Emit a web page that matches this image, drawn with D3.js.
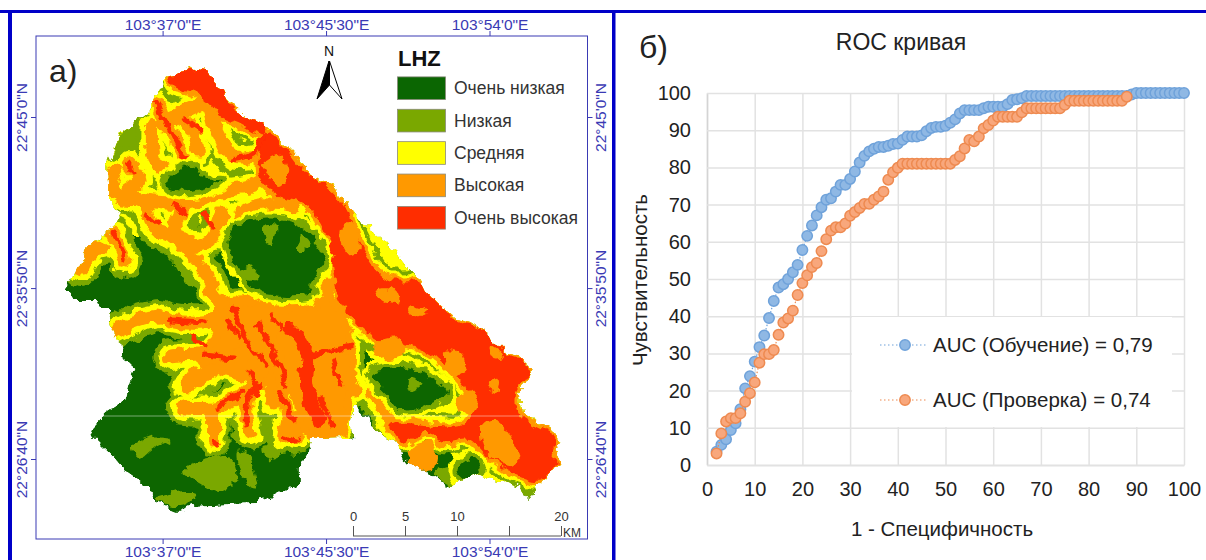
<!DOCTYPE html>
<html>
<head>
<meta charset="utf-8">
<script src="https://cdn.jsdelivr.net/npm/d3@7"></script>
<style>
  html, body { margin: 0; background: #fff; }
  text { font-family: "Liberation Sans", Arial, sans-serif; }
</style>
</head>
<body>
<div id="grafiek"></div>
<script>
// ---- ROC data ----
const fprSteps = [2,3,4,5,6,7,8,9,10,11,12,13,14,15,16,17,18,19,20,21,22,23,24,25,26,27,28,29,30,31,32,33,34,35,36,37,38,39,40,41,42,43,44,45,46,47,48,49,50,51,52,53,54,55,56,57,58,59,60,61,62,63,64,65,66,67,68,69,70,71,72,73,74,75,76,77,78,79,80,81,82,83,84,85,86,87,88,89,90,91,92,93,94,95,96,97,98,99,100];
const trainingTpr = [3.6,5.4,6.9,9.4,11.2,15,20.6,23.9,27.8,31.7,34.8,39.5,44.1,47.7,48.6,50,51.8,53.8,57.8,61.6,64.4,67.1,69.3,71.3,71.7,73.5,75.3,75.3,76.9,78.9,81.3,83.1,84.3,85,85.5,85.5,85.8,86.3,86.4,87.4,88.3,88.3,88.3,88.6,89.7,90.6,90.9,90.9,91.2,92,92.9,94.5,95.4,95.4,95.4,95.4,95.9,96.3,96.3,96.3,96.3,97,98.1,98.3,98.6,99.2,99.2,99.2,99.2,99.2,99.2,99.2,99.2,99.2,99.2,99.2,99.2,99.2,99.2,99.2,99.2,99.2,99.2,99.2,99.2,99.2,99.2,99.6,100,100,100,100,100,100,100,100,100,100,100];
const validationTpr = [3.1,8.5,11.7,12.6,12.6,13.9,17,19.3,22.2,27.5,29.8,29.8,30.9,35,38.3,39.4,41.5,45.7,48.9,51,53.2,54.3,57.5,60.7,63,63.9,63.9,64.9,67,68,69.1,70.2,70.2,71.3,72.2,73.5,76.7,78.7,79.9,81,81,81,81,81,81,81,81,81,81,81,82,83,85.1,87.4,87,88.3,90.5,91.4,92.6,93.6,93.6,93.6,93.6,93.6,94.8,95.9,95.9,95.9,95.9,95.9,95.9,95.9,95.9,96.8,97.9,97.9,97.9,97.9,97.9,97.9,97.9,97.9,97.9,97.9,97.9,97.9,99];
const rocTicks = [0,10,20,30,40,50,60,70,80,90,100];
const rocLegend = ['AUC (Обучение) = 0,79', 'AUC (Проверка) = 0,74'];

// ---- map labels ----
const lonTicks = [37, 45.5, 54];
const lonLabels = ['103°37\'0"E', '103°45\'30"E', '103°54\'0"E'];
const latTicks = [45, 35.83, 26.67];
const latLabels = ['22°45\'0"N', '22°35\'50"N', '22°26\'40"N'];
const zoneNames = ['Очень низкая', 'Низкая', 'Средняя', 'Высокая', 'Очень высокая'];
const scaleKm = [0, 5, 10, 15, 20];
const scaleKmLabels = ['0', '5', '10', '', '20'];

// ---- map regions, traced off the raster (sheet units) ----
const mapOutline = [[143,76],[158,72],[162,66],[167,70],[175,72],[185,78],[192,96],[205,112],[225,124],[240,138],[258,160],[268,178],[285,186],[298,205],[310,222],[330,240],[345,262],[358,278],[363,287],[377,305],[390,318],[403,322],[417,333],[433,352],[445,357],[455,368],[445,393],[448,413],[467,427],[482,440],[475,450],[480,462],[470,477],[460,487],[452,500],[445,487],[433,482],[427,483],[410,473],[383,487],[370,475],[347,460],[340,443],[330,437],[317,423],[305,405],[300,420],[302,440],[295,437],[267,438],[263,455],[257,467],[257,483],[233,497],[220,502],[200,503],[167,505],[152,512],[133,503],[127,487],[110,473],[98,457],[80,437],[78,428],[90,413],[107,400],[115,368],[105,358],[103,342],[97,330],[92,323],[95,310],[80,300],[62,300],[55,290],[63,277],[77,245],[93,233],[102,213],[93,197],[92,167],[103,133],[125,113],[133,97]];
const upperZone = [[80,160],[130,60],[240,100],[320,210],[370,290],[470,410],[495,470],[465,500],[400,470],[360,430],[330,380],[290,300],[275,215],[195,215],[140,235],[95,235]];
const lowZones = [
  [[157,470],[197,457],[203,478],[187,493],[172,484]],
  [[204,452],[212,455],[220,488],[212,485]],
  [[226,447],[240,450],[238,462],[230,460]],
  [[223,407],[232,408],[234,440],[226,440]],
  [[113,447],[130,438],[147,440],[130,450],[120,458]],
  [[133,498],[167,492],[160,505],[140,505]],
  [[150,262],[172,272],[168,290],[158,280]],
  [[103,135],[125,115],[130,128],[112,160],[97,165]],
  [[160,215],[170,218],[168,232],[158,230]],
  [[436,478],[462,480],[453,500],[444,490]],
  [[372,472],[395,463],[405,450],[415,462],[430,478],[410,470],[385,485]],
  [[290,408],[302,405],[300,432],[290,430]]
];
const ridgeLines = [
  [[133,103],[143,123],[160,163]],
  [[150,117],[177,105],[187,133],[200,157],[222,155]],
  [[140,125],[150,117],[165,130],[170,150]],
  [[130,125],[133,163],[150,172]],
  [[100,170],[95,183],[103,197],[120,200],[127,213],[133,230],[147,237],[157,247]],
  [[103,197],[120,180],[110,163]],
  [[120,200],[160,203],[197,190],[213,187],[223,180]],
  [[160,203],[150,225],[165,245],[180,240],[190,213]],
  [[157,247],[180,280],[182,290],[194,313]],
  [[97,233],[108,262]],
  [[70,270],[80,250],[88,248]],
  [[97,332],[115,322],[137,316],[146,320],[174,322],[194,317]],
  [[194,313],[211,347],[228,370],[234,403]],
  [[251,303],[243,333],[263,387],[274,425]],
  [[146,357],[172,355],[197,358],[214,353]],
  [[157,408],[186,407],[206,395],[226,370]],
  [[183,440],[183,410]],
  [[214,433],[211,403],[217,393]],
  [[243,437],[246,410],[240,393]],
  [[254,437],[251,417]],
  [[300,347],[271,353],[248,353]],
  [[243,307],[272,300],[283,283]],
  [[165,375],[160,385],[180,372]],
  [[205,215],[222,205],[250,210]],
  [[300,380],[304,390]],
  [[320,393],[337,427]]
];
const centralOrange = [[190,305],[240,300],[275,290],[300,340],[298,400],[292,432],[262,432],[252,395],[215,380],[172,360],[185,335]];
const redAreas = [
  [[228,135],[240,142],[262,172],[285,192],[298,210],[305,235],[330,278],[358,282],[377,305],[392,321],[405,325],[419,335],[435,354],[447,360],[453,369],[443,393],[446,415],[478,441],[472,452],[477,462],[465,480],[448,478],[420,458],[402,440],[380,442],[366,432],[345,442],[338,436],[335,424],[375,426],[398,424],[402,395],[378,362],[358,347],[342,342],[325,340],[308,326],[292,300],[286,270],[280,235],[262,205],[235,195],[222,170]],
  [[145,76],[162,68],[185,78],[192,96],[205,112],[228,125],[224,134],[205,124],[190,117],[178,102],[165,92],[150,87]]
];
const redStreaks = [
  [[133,103],[143,123],[160,163]],
  [[197,160],[217,153],[227,135]],
  [[146,320],[175,322]],
  [[176,355],[200,358]],
  [[186,407],[209,392]],
  [[200,310],[214,345],[228,365]],
  [[222,325],[238,362],[245,385]],
  [[300,345],[270,355]],
  [[211,425],[213,400],[222,385]],
  [[240,393],[252,420]],
  [[183,440],[187,445]],
  [[243,437],[254,440]],
  [[97,233],[108,258]],
  [[195,320],[204,335]],
  [[232,315],[240,328]],
  [[275,400],[285,425]],
  [[285,360],[292,385]],
  [[158,120],[172,130]],
  [[110,163],[113,170]],
  [[148,205],[158,212]],
  [[125,215],[135,225]],
  [[175,215],[182,228]],
  [[165,335],[175,345]],
  [[215,375],[222,395]]
];
const mainChannel = [[248,327],[263,353],[263,387],[274,420]];
const hazardIslands = [
  [[320,345],[342,338],[347,352],[326,360]],
  [[380,352],[395,354],[398,372],[387,375]],
  [[412,428],[424,420],[445,455],[438,466],[417,453]],
  [[350,448],[371,442],[374,466],[356,468]],
  [[292,230],[300,222],[308,250],[298,255]],
  [[392,398],[405,392],[408,410],[394,412]],
  [[350,305],[365,310],[360,318],[350,315]],
  [[225,165],[240,155],[247,170],[238,185]],
  [[322,290],[338,290],[342,302],[328,300]],
  [[418,385],[428,380],[426,392]],
  [[420,345],[432,355],[422,358]]
];
const basins = [
  [[195,240],[210,222],[255,224],[278,258],[265,285],[268,293],[225,293],[213,282]],
  [[145,176],[165,166],[175,180],[190,180],[165,191],[143,186]],
  [[318,374],[350,368],[383,392],[370,403],[345,410],[332,395]],
  [[392,470],[405,458],[412,468],[400,480]]
];
const basinPatches = [
  [[225,226],[236,224],[233,245],[228,243]],
  [[258,236],[266,246],[256,252]],
  [[205,272],[218,268],[222,280],[212,280]],
  [[350,378],[362,384],[352,392]]
];

// Scales shared by the figure.
const width = 1206, height = 560;
const svg = d3.select('#grafiek').append('svg').attr('width', width).attr('height', height);
const defs = svg.append('defs');

// Jagged raster edge for the zones.
const rough = defs.append('filter').attr('id', 'rough')
  .attr('x', '-5%').attr('y', '-5%').attr('width', '110%').attr('height', '110%');
rough.append('feTurbulence').attr('type', 'fractalNoise').attr('baseFrequency', 0.09)
  .attr('numOctaves', 3).attr('seed', 4).attr('result', 'noise');
rough.append('feDisplacementMap').attr('in', 'SourceGraphic').attr('in2', 'noise')
  .attr('scale', 11).attr('xChannelSelector', 'R').attr('yChannelSelector', 'G');
const soft = defs.append('filter').attr('id', 'soft');
soft.append('feGaussianBlur').attr('stdDeviation', 0.5);

// Page frame.
const frameBlue = '#0000c8';
svg.append('rect').attr('x', 0).attr('y', 10).attr('width', width).attr('height', 3).attr('fill', frameBlue);
svg.append('rect').attr('x', 8).attr('y', 10).attr('width', 4).attr('height', height).attr('fill', frameBlue);
svg.append('rect').attr('x', 612).attr('y', 10).attr('width', 3.5).attr('height', height).attr('fill', frameBlue);

// ---------- a) map ----------
const frame = { left: 36, right: 587.5, top: 36, bottom: 539 };
const sheetX = d3.scaleLinear().domain([0, 522.7]).range([0, 610]);
const sheetY = d3.scaleLinear().domain([0, 560]).range([0, 560]);
const area = d3.line().x(d => sheetX(d[0])).y(d => sheetY(d[1])).curve(d3.curveCatmullRomClosed);
const ridge = d3.line().x(d => sheetX(d[0])).y(d => sheetY(d[1])).curve(d3.curveCatmullRom);
const sharp = d3.line().x(d => sheetX(d[0])).y(d => sheetY(d[1]));

const colDark = '#0b6602', colLow = '#7aa800', colMid = '#ffff00', colHigh = '#ff9900', colTop = '#ff2d00';
const zoneColors = [colDark, colLow, colMid, colHigh, colTop];

defs.append('clipPath').attr('id', 'outline').append('path').attr('d', sharp(mapOutline) + 'Z');

const mapWrap = svg.append('g').attr('filter', 'url(#soft)');
const mapLayer = mapWrap.append('g').attr('filter', 'url(#rough)').append('g').attr('clip-path', 'url(#outline)');
mapLayer.append('path').attr('d', sharp(mapOutline) + 'Z').attr('fill', colDark);
mapLayer.append('path').attr('d', sharp(upperZone) + 'Z').attr('fill', colMid);
mapLayer.selectAll('.low').data(lowZones).enter().append('path').attr('class', 'low')
  .attr('d', area).attr('fill', colLow);

// Each hazard band is the same ridges stroked wide to narrow.
const hazardAreas = [centralOrange].concat(redAreas);
const bands = [
  { color: colLow, line: 34, poly: 24 },
  { color: colMid, line: 24, poly: 16 },
  { color: colHigh, line: 13, poly: 8 }
];
bands.forEach(b => {
  const g = mapLayer.append('g');
  g.selectAll('.a').data(hazardAreas).enter().append('path')
    .attr('d', area).attr('fill', b.color).attr('stroke', b.color)
    .attr('stroke-width', b.poly).attr('stroke-linejoin', 'round');
  g.selectAll('.r').data(ridgeLines).enter().append('path')
    .attr('d', ridge).attr('fill', 'none').attr('stroke', b.color)
    .attr('stroke-width', b.line).attr('stroke-linecap', 'round').attr('stroke-linejoin', 'round');
});

mapLayer.selectAll('.red').data(redAreas).enter().append('path').attr('class', 'red')
  .attr('d', area).attr('fill', colTop);
mapLayer.selectAll('.isl').data(hazardIslands).enter().append('path').attr('class', 'isl')
  .attr('d', area).attr('fill', colHigh);
mapLayer.selectAll('.streak').data(redStreaks).enter().append('path').attr('class', 'streak')
  .attr('d', ridge).attr('fill', 'none').attr('stroke', colTop).attr('stroke-width', 5).attr('stroke-linecap', 'round');
mapLayer.append('path').attr('d', ridge(mainChannel)).attr('fill', 'none')
  .attr('stroke', colTop).attr('stroke-width', 13).attr('stroke-linecap', 'round');

// Low basins go on top with their yellow and green rim.
[{ color: colMid, w: 18 }, { color: colLow, w: 10 }, { color: colDark, w: 0 }].forEach(b => {
  mapLayer.append('g').selectAll('path').data(basins).enter().append('path')
    .attr('d', area).attr('fill', b.color).attr('stroke', b.color)
    .attr('stroke-width', b.w).attr('stroke-linejoin', 'round');
});
mapLayer.selectAll('.bp').data(basinPatches).enter().append('path').attr('class', 'bp')
  .attr('d', area).attr('fill', colLow);

// Faint scan line that crosses the raster.
mapWrap.append('line').attr('x1', sheetX(78)).attr('x2', sheetX(448))
  .attr('y1', sheetY(416)).attr('y2', sheetY(416)).attr('stroke', '#fff').attr('stroke-opacity', 0.45);

// Graticule with the coordinates on all four sides.
const mapBlue = '#3a3ab4';
const lonScale = d3.scaleLinear().domain([37, 54]).range([162.6, 489.5]);
const latScale = d3.scaleLinear().domain([45, 26.67]).range([117, 459]);
svg.append('rect').attr('x', frame.left).attr('y', frame.top)
  .attr('width', frame.right - frame.left).attr('height', frame.bottom - frame.top)
  .attr('fill', 'none').attr('stroke', mapBlue).attr('stroke-width', 1);

function styleGrat(g) {
  g.select('.domain').remove();
  g.selectAll('line').attr('stroke', mapBlue);
  g.selectAll('text').attr('fill', mapBlue).style('font-size', '15.5px');
}
const lonFmt = (d, i) => lonLabels[i];
const latFmt = (d, i) => latLabels[i];
svg.append('g').attr('transform', `translate(0,${frame.top})`)
  .call(d3.axisTop(lonScale).tickValues(lonTicks).tickFormat(lonFmt).tickSize(5).tickPadding(1)).call(styleGrat);
svg.append('g').attr('transform', `translate(0,${frame.bottom})`)
  .call(d3.axisBottom(lonScale).tickValues(lonTicks).tickFormat(lonFmt).tickSize(5).tickPadding(2)).call(styleGrat);
svg.append('g').attr('transform', `translate(${frame.left},0)`)
  .call(d3.axisLeft(latScale).tickValues(latTicks).tickFormat(latFmt).tickSize(5)).call(styleGrat)
  .selectAll('text').attr('text-anchor', 'middle').attr('x', 0).attr('y', 0).attr('dy', 0)
  .attr('transform', 'translate(-9,0) rotate(-90)');
svg.append('g').attr('transform', `translate(${frame.right},0)`)
  .call(d3.axisRight(latScale).tickValues(latTicks).tickFormat(latFmt).tickSize(5)).call(styleGrat)
  .selectAll('text').attr('text-anchor', 'middle').attr('x', 0).attr('y', 0).attr('dy', 0)
  .attr('transform', 'translate(18.5,0) rotate(-90)');

svg.append('text').attr('x', 49).attr('y', 82).text('а)').style('font-size', '32px').attr('fill', '#222');

// North arrow.
const northArrow = svg.append('g');
northArrow.append('text').attr('x', 329).attr('y', 56).attr('text-anchor', 'middle').text('N')
  .style('font-size', '14px').attr('fill', '#111');
northArrow.append('path').attr('d', 'M329,61L317,99L329.5,85Z').attr('fill', '#000').attr('stroke', '#000');
northArrow.append('path').attr('d', 'M329.5,61L342,99L329.5,85Z').attr('fill', '#fff').attr('stroke', '#000');

// Legend of the zones.
svg.append('text').attr('x', 398).attr('y', 66).text('LHZ').style('font-size', '22px')
  .style('font-weight', 'bold').attr('fill', '#111');
const zoneY = d3.scaleBand().domain(zoneNames).range([73, 233]).paddingInner(0.3).paddingOuter(0.12);
const zoneRows = svg.append('g').selectAll('g').data(zoneNames).enter().append('g');
zoneRows.append('rect').attr('x', 397.5).attr('y', d => zoneY(d)).attr('width', 48).attr('height', zoneY.bandwidth())
  .attr('fill', (d, i) => zoneColors[i]).attr('stroke', '#8a8a7a').attr('stroke-width', 0.8);
zoneRows.append('text').attr('x', 454).attr('y', d => zoneY(d) + zoneY.bandwidth() / 2 + 6)
  .text(d => d).style('font-size', '17.5px').attr('fill', '#333');

// Scale bar.
const kmScale = d3.scaleLinear().domain([0, 20]).range([353, 561]);
const kmAxis = svg.append('g').attr('transform', 'translate(0,536)')
  .call(d3.axisTop(kmScale).tickValues(scaleKm).tickFormat((d, i) => scaleKmLabels[i]).tickSize(10).tickSizeOuter(0).tickPadding(5));
kmAxis.selectAll('line').attr('stroke', '#555');
kmAxis.select('.domain').attr('stroke', '#555').attr('d', 'M353,0H561');
kmAxis.selectAll('text').attr('fill', '#333').style('font-size', '13px');
svg.append('text').attr('x', 563).attr('y', 537).text('KM').style('font-size', '12px').attr('fill', '#333');

// ---------- б) ROC ----------
const plot = { left: 707, right: 1184, top: 93, bottom: 465 };
const x = d3.scaleLinear().domain([0, 100]).range([plot.left, plot.right]);
const y = d3.scaleLinear().domain([0, 100]).range([plot.bottom, plot.top]);

const gridColor = '#e2e2e2';
const xAxis = svg.append('g').attr('transform', `translate(0,${plot.bottom})`)
  .call(d3.axisBottom(x).tickValues(rocTicks).tickSize(-(plot.bottom - plot.top)).tickPadding(17).tickSizeOuter(0));
const yAxis = svg.append('g').attr('transform', `translate(${plot.left},0)`)
  .call(d3.axisLeft(y).tickValues(rocTicks).tickSize(-(plot.right - plot.left)).tickPadding(16).tickSizeOuter(0));
[xAxis, yAxis].forEach(a => {
  a.selectAll('line').attr('stroke', gridColor).attr('stroke-width', 1.5);
  a.select('.domain').attr('stroke', '#d4d4d4').attr('stroke-width', 1.5);
  a.selectAll('text').attr('fill', '#222').style('font-size', '20px');
});

// White legend box hides part of the grid.
svg.append('rect').attr('x', 852).attr('y', 317).attr('width', 320).attr('height', 110).attr('fill', '#fff');

const series = [
  { tpr: trainingTpr, fill: '#8fb8e4', stroke: '#6fa2da', name: rocLegend[0], legendY: 345 },
  { tpr: validationTpr, fill: '#f8a77c', stroke: '#ee8a50', name: rocLegend[1], legendY: 400 }
];
const rocLine = d3.line().x(d => x(d.fpr)).y(d => y(d.tpr));

series.forEach(s => {
  const pts = s.tpr.map((v, i) => ({ fpr: fprSteps[i], tpr: v }));
  const g = svg.append('g');
  g.append('path').attr('d', rocLine(pts)).attr('fill', 'none').attr('stroke', s.stroke)
    .attr('stroke-width', 1.2).attr('stroke-dasharray', '1.5 2');
  g.selectAll('circle').data(pts).enter().append('circle')
    .attr('cx', d => x(d.fpr)).attr('cy', d => y(d.tpr)).attr('r', 5.2)
    .attr('fill', s.fill).attr('stroke', s.stroke).attr('stroke-width', 1.5);

  // Legend row.
  svg.append('line').attr('x1', 880).attr('x2', 928).attr('y1', s.legendY).attr('y2', s.legendY)
    .attr('stroke', s.stroke).attr('stroke-width', 1.2).attr('stroke-dasharray', '1.5 2.5');
  svg.append('circle').attr('cx', 905).attr('cy', s.legendY).attr('r', 5.2)
    .attr('fill', s.fill).attr('stroke', s.stroke).attr('stroke-width', 1.5);
  svg.append('text').attr('x', 933).attr('y', s.legendY + 7).text(s.name)
    .style('font-size', '20.5px').attr('fill', '#222');
});

// Titles.
svg.append('text').attr('x', 639).attr('y', 58).text('б)').style('font-size', '32px').attr('fill', '#222');
svg.append('text').attr('x', 901).attr('y', 50).attr('text-anchor', 'middle').text('ROC кривая')
  .style('font-size', '23px').attr('fill', '#222');
svg.append('text').attr('x', 942).attr('y', 536).attr('text-anchor', 'middle').text('1 - Специфичность')
  .style('font-size', '20.5px').attr('fill', '#222');
svg.append('text').attr('transform', 'translate(647,280) rotate(-90)').attr('text-anchor', 'middle')
  .text('Чувствительность').style('font-size', '20.5px').attr('fill', '#222');
</script>
</body>
</html>
